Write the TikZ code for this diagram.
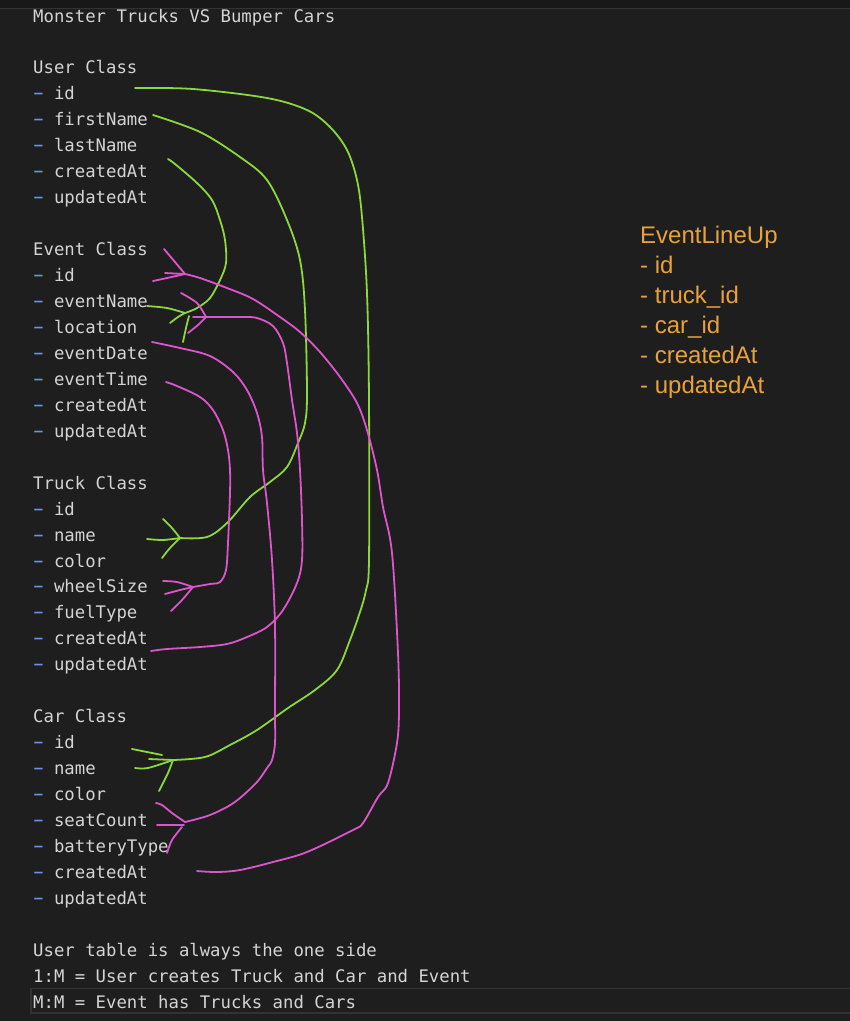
\documentclass[tikz,border=0pt]{standalone}
\usepackage{fontspec}
\usepackage{graphicx}
\newfontfamily\codefont{DejaVu Sans Mono}
\newfontfamily\notefont{Liberation Sans}
\definecolor{bg}{HTML}{1E1E1E}
\definecolor{barc}{HTML}{181818}
\definecolor{txt}{HTML}{D4D4D4}
\definecolor{dashc}{HTML}{6796E6}
\definecolor{orng}{HTML}{E9A23B}
\definecolor{grn}{HTML}{8BD83A}
\definecolor{pnk}{HTML}{DD55CC}
\definecolor{hl}{HTML}{323232}
\tikzset{
  code/.style={anchor=base west, inner sep=0pt, text=txt, font=\codefont\fontsize{17.3}{26}\selectfont},
  note/.style={anchor=base west, inner sep=0pt, text=orng, font=\notefont\fontsize{24}{30}\selectfont},
  gline/.style={draw=grn, line width=1.8pt, line cap=round, line join=round},
  pline/.style={draw=pnk, line width=1.8pt, line cap=round, line join=round},
}
\newcommand{\dsh}{\makebox[0.602em][c]{\color{dashc}\scalebox{1.9}[1.15]{-}}}
\begin{document}
\begin{tikzpicture}[x=1pt,y=-1pt]
\useasboundingbox (0,0) rectangle (850,1021);
\fill[bg] (0,0) rectangle (850,1021);
\fill[barc] (0,0) rectangle (850,8);
\draw[black!80, line width=0.8pt] (0,8.4) -- (850,8.4);
\draw[hl, line width=1.5pt] (31,988.5) rectangle (851,1013);
% code text
\node[code] (t0) at (33,22) {Monster Trucks VS Bumper Cars};
\node[code] (u0) at (33,73.9) {User Class};
\node[code] (u1) at (33,99.9) {\dsh{} id};
\node[code] (u2) at (33,125.8) {\dsh{} firstName};
\node[code] (u3) at (33,151.8) {\dsh{} lastName};
\node[code] (u4) at (33,177.7) {\dsh{} createdAt};
\node[code] (u5) at (33,203.7) {\dsh{} updatedAt};
\node[code] (e0) at (33,255.6) {Event Class};
\node[code] (e1) at (33,281.5) {\dsh{} id};
\node[code] (e2) at (33,307.5) {\dsh{} eventName};
\node[code] (e3) at (33,333.4) {\dsh{} location};
\node[code] (e4) at (33,359.4) {\dsh{} eventDate};
\node[code] (e5) at (33,385.3) {\dsh{} eventTime};
\node[code] (e6) at (33,411.3) {\dsh{} createdAt};
\node[code] (e7) at (33,437.2) {\dsh{} updatedAt};
\node[code] (r0) at (33,489.1) {Truck Class};
\node[code] (r1) at (33,515.1) {\dsh{} id};
\node[code] (r2) at (33,541.0) {\dsh{} name};
\node[code] (r3) at (33,567.0) {\dsh{} color};
\node[code] (r4) at (33,592.9) {\dsh{} wheelSize};
\node[code] (r5) at (33,618.9) {\dsh{} fuelType};
\node[code] (r6) at (33,644.8) {\dsh{} createdAt};
\node[code] (r7) at (33,670.8) {\dsh{} updatedAt};
\node[code] (c0) at (33,722.7) {Car Class};
\node[code] (c1) at (33,748.6) {\dsh{} id};
\node[code] (c2) at (33,774.6) {\dsh{} name};
\node[code] (c3) at (33,800.5) {\dsh{} color};
\node[code] (c4) at (33,826.5) {\dsh{} seatCount};
\node[code] (c5) at (33,852.4) {\dsh{} batteryType};
\node[code] (c6) at (33,878.4) {\dsh{} createdAt};
\node[code] (c7) at (33,904.3) {\dsh{} updatedAt};
\node[code] (n1) at (33,956.2) {User table is always the one side};
\node[code] (n2) at (33,982.2) {1:M = User creates Truck and Car and Event};
\node[code] (n3) at (33,1008.1) {M:M = Event has Trucks and Cars};
% EventLineUp note
\node[note] (l0) at (640,243) {EventLineUp};
\node[note] (l1) at (640,273) {- id};
\node[note] (l2) at (640,303) {- truck\_id};
\node[note] (l3) at (640,333) {- car\_id};
\node[note] (l4) at (640,363) {- createdAt};
\node[note] (l5) at (640,393) {- updatedAt};
% connector end points
\coordinate (g1s) at (135,88);  \coordinate (g1e) at (173,760);
\coordinate (g2s) at (153,115); \coordinate (g2e) at (180,538);
\coordinate (g3s) at (168,159); \coordinate (g3e) at (185,313);
\coordinate (p1s) at (185,274); \coordinate (p1e) at (197,871);
\coordinate (p2s) at (206,317); \coordinate (p2e) at (151,651);
\coordinate (p3s) at (152,342); \coordinate (p3e) at (185,822);
\coordinate (p4s) at (166,382); \coordinate (p4e) at (193,587);
% green connectors
\draw[gline] plot[smooth, tension=0.55] coordinates {(g1s) (193,89) (267,98) (307,110) (330,127) (347,150) (357,180) (362,217) (367,293) (369,400) (369,560) (366,590) (360,612) (350,640) (337,670) (315,690) (288,708) (257,730) (230,745) (205,757) (g1e)};
\draw[gline] (132,749) -- (162,755);
\draw[gline] (149,759) -- (g1e);
\draw[gline] plot[smooth] coordinates {(135,768) (148,768) (g1e)};
\draw[gline] plot[smooth] coordinates {(g1e) (168,773) (159,791)};
\draw[gline] plot[smooth, tension=0.55] coordinates {(g2s) (200,132) (240,157) (267,180) (287,220) (300,260) (305,310) (307,393) (305,423) (298,443) (287,467) (270,482) (250,497) (227,523) (207,537) (g2e)};
\draw[gline] plot[smooth] coordinates {(147,539) (163,540) (g2e)};
\draw[gline] plot[smooth] coordinates {(163,519) (172,528) (g2e)};
\draw[gline] plot[smooth] coordinates {(162,558) (170,548) (g2e)};
\draw[gline] plot[smooth, tension=0.55] coordinates {(g3s) (175,164) (197,183) (212,200) (220,220) (225,240) (226,263) (220,280) (210,298) (197,308) (g3e)};
\draw[gline] plot[smooth] coordinates {(147,306) (167,308) (g3e)};
\draw[gline] plot[smooth] coordinates {(170,323) (178,317) (g3e)};
\draw[gline] plot[smooth] coordinates {(189,316) (186,328) (183,342)};
% pink connectors
\draw[pline] plot[smooth, tension=0.55] coordinates {(p1s) (200,278) (227,288) (253,299) (280,317) (300,332) (320,352) (340,377) (357,403) (367,430) (377,470) (383,507) (392,553) (398,653) (399,710) (397,743) (388,783) (378,797) (363,823) (353,830) (307,852) (273,862) (240,870) (217,872) (p1e)};
\draw[pline] plot[smooth] coordinates {(164,249) (175,262) (p1s)};
\draw[pline] (165,273) -- (p1s);
\draw[pline] plot[smooth] coordinates {(153,281) (167,278) (p1s)};
\draw[pline] plot[smooth, tension=0.55] coordinates {(p2s) (220,317) (243,317) (257,318) (273,326) (283,343) (287,363) (292,400) (297,433) (300,470) (302,520) (302,560) (297,583) (283,610) (267,627) (247,637) (227,644) (200,647) (167,649) (p2e)};
\draw[pline] plot[smooth] coordinates {(181,293) (197,303) (p2s)};
\draw[pline] (193,317) -- (p2s);
\draw[pline] plot[smooth] coordinates {(188,333) (198,325) (p2s)};
\draw[pline] plot[smooth, tension=0.55] coordinates {(p3s) (180,348) (210,356) (233,372) (247,390) (257,413) (262,437) (263,470) (267,503) (272,560) (275,627) (275,710) (275,743) (272,760) (267,768) (257,782) (240,798) (227,807) (210,815) (197,819) (p3e)};
\draw[pline] plot[smooth] coordinates {(156,803) (162,805) (172,813) (p3e)};
\draw[pline] (157,825) -- (184,825);
\draw[pline] plot[smooth] coordinates {(167,853) (172,840) (182,827)};
\draw[pline] plot[smooth, tension=0.55] coordinates {(p4s) (177,386) (200,397) (213,410) (223,430) (228,450) (230,470) (230,493) (228,543) (226,570) (220,582) (210,584) (p4e)};
\draw[pline] plot[smooth] coordinates {(163,581) (177,582) (p4e)};
\draw[pline] plot[smooth] coordinates {(165,594) (180,590) (p4e)};
\draw[pline] plot[smooth] coordinates {(171,611) (182,600) (p4e)};
\end{tikzpicture}
\end{document}
